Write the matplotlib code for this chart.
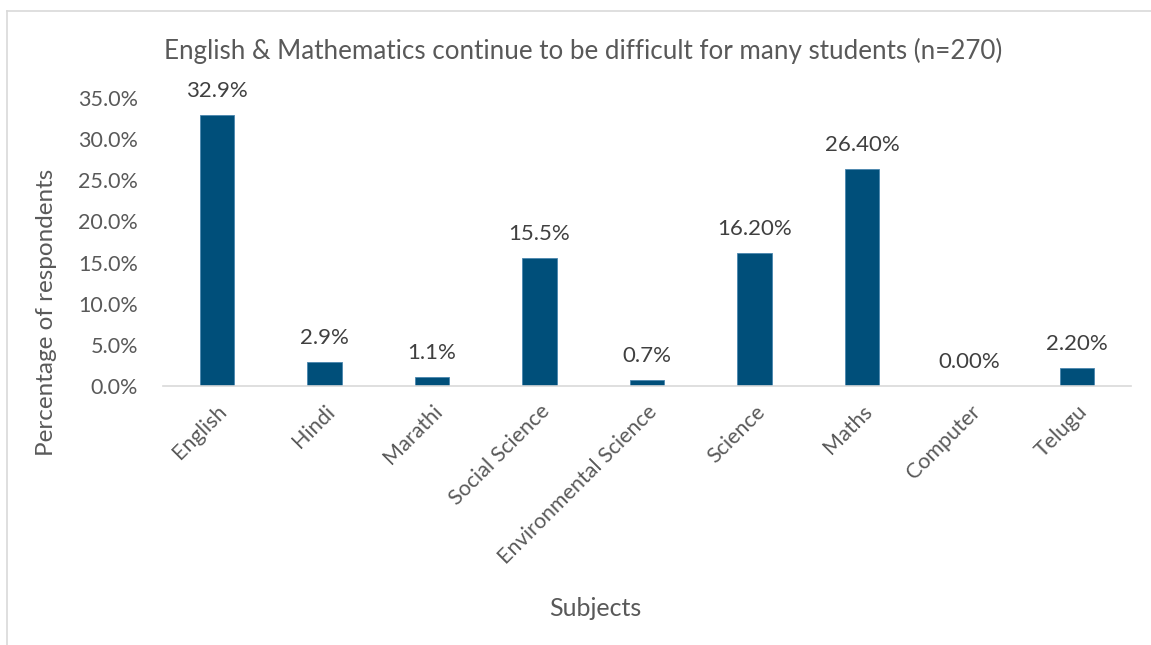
import matplotlib
matplotlib.use('Agg')
import matplotlib.pyplot as plt
from matplotlib.ticker import FuncFormatter

subjects = ['English', 'Hindi', 'Marathi', 'Social Science', 'Environmental Science',
            'Science', 'Maths', 'Computer', 'Telugu']
values = [32.9, 2.9, 1.1, 15.5, 0.7, 16.2, 26.4, 0.0, 2.2]
labels = ['32.9%', '2.9%', '1.1%', '15.5%', '0.7%', '16.20%', '26.40%', '0.00%', '2.20%']

plt.rcParams['font.family'] = ['Lato', 'DejaVu Sans']

fig = plt.figure(figsize=(11.51, 6.45), dpi=100)
ax = fig.add_axes([0.1416, 0.4016, 0.841, 0.4466])

x = range(len(subjects))
bars = ax.bar(x, values, width=0.32, color='#004F7A', edgecolor='#4A86AE', linewidth=0.6)
for b, lab in zip(bars, labels):
    ax.text(b.get_x() + b.get_width() / 2, b.get_height() + 1.7, lab,
            ha='center', va='bottom', fontsize=16, color='#404040')

ax.set_xlim(-0.5, len(subjects) - 0.5)
ax.set_ylim(0, 35)
ax.set_yticks([0, 5, 10, 15, 20, 25, 30, 35])
ax.yaxis.set_major_formatter(FuncFormatter(lambda v, p: '%.1f%%' % v))
ax.set_xticks(list(x))
ax.set_xticklabels(subjects, rotation=45, ha='right', rotation_mode='anchor')
ax.tick_params(axis='both', length=0, labelsize=15.5, colors='#595959')
ax.tick_params(axis='x', pad=11)
ax.tick_params(axis='y', pad=18)

for s in ['top', 'right', 'left']:
    ax.spines[s].set_visible(False)
ax.spines['bottom'].set_color('#D9D9D9')
ax.spines['bottom'].set_linewidth(1.2)

fig.text(0.040, 0.516, 'Percentage of respondents', rotation=90, ha='center', va='center',
         fontsize=17.5, color='#595959')
fig.text(0.517, 0.057, 'Subjects', ha='center', va='center', fontsize=18, color='#595959')
fig.text(0.507, 0.921, 'English & Mathematics continue to be difficult for many students (n=270)',
         ha='center', va='center', fontsize=18.7, color='#595959')

# chart frame (top and left edges)
fig.add_artist(plt.Line2D([0.006, 1.0], [0.983, 0.983], color='#D9D9D9', lw=1.2))
fig.add_artist(plt.Line2D([0.006, 0.006], [0.0, 0.983], color='#D9D9D9', lw=1.2))

fig.savefig('out.png', dpi=100)
